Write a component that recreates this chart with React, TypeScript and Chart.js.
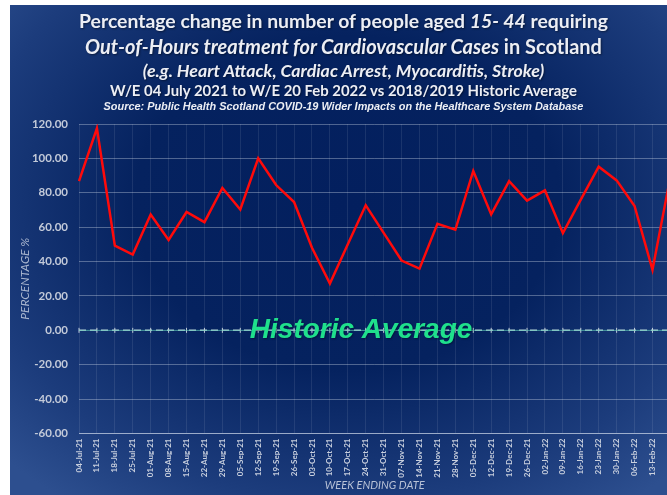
import React, { useEffect, useRef } from "react";
import { Chart, registerables } from "chart.js";

Chart.register(...registerables);

const weekLabels = [
  "04-Jul-21", "11-Jul-21", "18-Jul-21", "25-Jul-21", "01-Aug-21", "08-Aug-21",
  "15-Aug-21", "22-Aug-21", "29-Aug-21", "05-Sep-21", "12-Sep-21", "19-Sep-21",
  "26-Sep-21", "03-Oct-21", "10-Oct-21", "17-Oct-21", "24-Oct-21", "31-Oct-21",
  "07-Nov-21", "14-Nov-21", "21-Nov-21", "28-Nov-21", "05-Dec-21", "12-Dec-21",
  "19-Dec-21", "26-Dec-21", "02-Jan-22", "09-Jan-22", "16-Jan-22", "23-Jan-22",
  "30-Jan-22", "06-Feb-22", "13-Feb-22", "20-Feb-22",
];

const pctChange = [
  86.8, 117.5, 49.3, 44.1, 67.4, 52.6, 68.8, 62.9, 82.8, 70.3, 100.1, 84.5,
  74.6, 48.0, 27.2, 50.1, 72.7, 56.7, 40.6, 35.9, 62.0, 58.5, 92.7, 67.4,
  86.8, 75.4, 81.4, 56.5, 76.0, 95.2, 87.2, 72.3, 35.2, 89.4,
];

const historicAverage = [
  0, 0, 0, 0, 0, 0, 0, 0, 0, 0, 0, 0, 0, 0, 0, 0, 0, 0, 0, 0, 0, 0, 0, 0,
  0, 0, 0, 0, 0, 0, 0, 0, 0, 0,
];

const yMin = -60;
const yMax = 120;
const yStep = 20;

const PANEL_W = 675;
const PANEL_H = 495;

const historicLabelPlugin = {
  id: "historicLabel",
  afterDatasetsDraw(chart: any) {
    const { ctx, chartArea, scales } = chart;
    const y = scales.y.getPixelForValue(0);
    const x = chartArea.left + (chartArea.right - chartArea.left) * 0.477;
    ctx.save();
    ctx.font = "italic bold 28px 'Liberation Sans', Arial, sans-serif";
    ctx.textAlign = "center";
    ctx.textBaseline = "middle";
    ctx.shadowColor = "rgba(0,0,0,0.35)";
    ctx.shadowBlur = 2;
    ctx.shadowOffsetX = 1;
    ctx.shadowOffsetY = 1;
    ctx.fillStyle = "#1fe08c";
    ctx.fillText("Historic Average", x, y);
    ctx.restore();
  },
};

export default function App() {
  const canvasRef = useRef<HTMLCanvasElement | null>(null);

  useEffect(() => {
    if (!canvasRef.current) return;
    const chart = new Chart(canvasRef.current, {
      type: "line",
      data: {
        labels: weekLabels,
        datasets: [
          {
            label: "Historic Average base",
            data: historicAverage,
            borderColor: "rgba(43,181,154,0.55)",
            borderWidth: 1,
            pointRadius: 0,
            tension: 0,
          },
          {
            label: "Historic Average",
            data: historicAverage,
            borderColor: "rgba(225,232,240,0.85)",
            borderWidth: 1.5,
            borderDash: [7, 4],
            pointStyle: "line",
            rotation: 90,
            pointRadius: 2.5,
            pointBorderColor: "rgba(225,232,240,0.85)",
            pointBorderWidth: 1,
            tension: 0,
          },
          {
            label: "Percentage change",
            data: pctChange,
            borderColor: "#ff0a0a",
            borderWidth: 2.5,
            pointRadius: 0,
            tension: 0,
          },
        ],
      },
      options: {
        responsive: false,
        animation: false,
        layout: { padding: { top: 119, left: 0, right: 8, bottom: 0 } },
        plugins: {
          legend: { display: false },
          tooltip: { enabled: false },
          title: { display: false },
        },
        scales: {
          x: {
            offset: false,
            afterFit: (scale: any) => {
              scale.height = 66.5;
            },
            grid: {
              color: "rgba(255,255,255,0.09)",
              drawTicks: false,
            },
            border: { color: "rgba(200,210,230,0.6)", width: 1 },
            ticks: {
              autoSkip: false,
              maxRotation: 90,
              minRotation: 90,
              padding: 5,
              color: "#c9d0de",
              font: { family: "Lato, 'Open Sans', sans-serif", size: 8, weight: "bold" },
            },
            title: {
              display: true,
              text: "WEEK ENDING DATE",
              color: "#b7c1d6",
              padding: { top: 2, bottom: 8 },
              font: { family: "Lato, 'Open Sans', sans-serif", size: 11, style: "italic" },
            },
          },
          y: {
            min: yMin,
            max: yMax,
            afterFit: (scale: any) => {
              scale.width = 69;
            },
            grid: {
              color: "rgba(220,228,240,0.35)",
              drawTicks: false,
            },
            border: { display: false },
            ticks: {
              stepSize: yStep,
              padding: 11,
              color: "#c3cad9",
              font: { family: "Lato, 'Open Sans', sans-serif", size: 11.5, weight: "bold" },
              callback: (v: any) => Number(v).toFixed(2),
            },
            title: {
              display: true,
              text: "PERCENTAGE %",
              color: "#a9b6cf",
              padding: { top: 8, bottom: 0 },
              font: { family: "Lato, 'Open Sans', sans-serif", size: 12, style: "italic" },
            },
          },
        },
      },
      plugins: [historicLabelPlugin],
    });
    return () => chart.destroy();
  }, []);

  const titleColor = "#eceef4";
  const shadow = "1px 1px 2px rgba(0,0,0,0.45)";
  const line = (top: number, extra: React.CSSProperties): React.CSSProperties => ({
    position: "absolute",
    left: -4,
    width: PANEL_W,
    top,
    textAlign: "center",
    color: titleColor,
    whiteSpace: "nowrap",
    textShadow: shadow,
    lineHeight: 1,
    ...extra,
  });

  return (
    <div
      style={{
        position: "fixed",
        left: 0,
        top: 0,
        width: 667,
        height: 495,
        overflow: "hidden",
        background: "#ffffff",
      }}
    >
      <div
        style={{
          position: "absolute",
          left: 10,
          top: 5,
          width: PANEL_W,
          height: PANEL_H,
          background:
            "radial-gradient(ellipse 70% 75% at 50% 40%, #031f5e 0%, #05225f 45%, #1c3c7c 80%, #2d4f8f 100%)",
        }}
      >
        <canvas
          ref={canvasRef}
          width={PANEL_W}
          height={PANEL_H}
          style={{ position: "absolute", left: 0, top: 0, width: PANEL_W, height: PANEL_H }}
        />
        <div style={line(6.3, { fontFamily: "Lato, sans-serif", fontWeight: 700, fontSize: 19.4 })}>
          Percentage change in number of people aged <i>15- 44</i> requiring
        </div>
        <div style={line(31, { fontFamily: "Lato, sans-serif", fontWeight: 700, fontSize: 20 })}>
          <i>Out-of-Hours treatment for Cardiovascular Cases</i> in Scotland
        </div>
        <div style={line(57, { fontFamily: "Lato, sans-serif", fontWeight: 700, fontStyle: "italic", fontSize: 17.8 })}>
          (e.g. Heart Attack, Cardiac Arrest, Myocarditis, Stroke)
        </div>
        <div style={line(77.5, { fontFamily: "Lato, sans-serif", fontWeight: 700, fontSize: 14.9 })}>
          W/E 04 July 2021 to W/E 20 Feb 2022 vs 2018/2019 Historic Average
        </div>
        <div
          style={line(95.5, {
            fontFamily: "'Liberation Sans', Arial, sans-serif",
            fontWeight: 700,
            fontStyle: "italic",
            fontSize: 10.9,
            textShadow: "none",
          })}
        >
          Source: Public Health Scotland COVID-19 Wider Impacts on the Healthcare System Database
        </div>
      </div>
    </div>
  );
}
